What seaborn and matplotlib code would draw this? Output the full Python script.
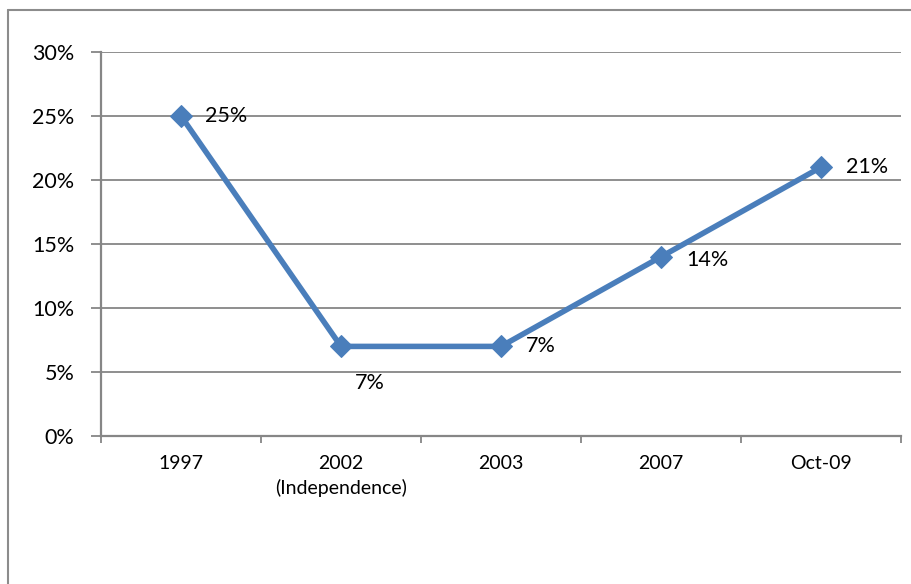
import matplotlib
matplotlib.use("Agg")
import matplotlib.pyplot as plt
from matplotlib.lines import Line2D
from matplotlib.ticker import FixedLocator, PercentFormatter
import seaborn as sns
import pandas as pd

# Data
periods = ["1997", "2002\n(Independence)", "2003", "2007", "Oct-09"]
rates = [25, 7, 7, 14, 21]
labels = ["25%", "7%", "7%", "14%", "21%"]
y_ticks = [0, 5, 10, 15, 20, 25, 30]

sns.set_style("white")
plt.rcParams["font.family"] = ["Lato", "DejaVu Sans"]

W, H = 912, 584
fig = plt.figure(figsize=(W / 100, H / 100), dpi=100)
ax = fig.add_axes([101 / W, 148 / H, 800 / W, 384 / H])

df = pd.DataFrame({"period": periods, "rate": rates})
blue = "#4A7EBB"
sns.lineplot(data=df, x="period", y="rate", ax=ax, color=blue, lw=4.0,
             marker="D", markersize=11, markeredgecolor=blue, sort=False)

ax.set_xlim(-0.5, len(periods) - 0.5)
ax.set_ylim(0, 30)
ax.set_xlabel("")
ax.set_ylabel("")

grid_c = "#868686"
ax.yaxis.set_major_locator(FixedLocator(y_ticks))
ax.yaxis.set_major_formatter(PercentFormatter(decimals=0))
ax.grid(axis="y", color=grid_c, lw=1.3)
ax.set_axisbelow(True)

for s in ["top", "right"]:
    ax.spines[s].set_visible(False)
for s in ["left", "bottom"]:
    ax.spines[s].set_color(grid_c)
    ax.spines[s].set_linewidth(1.6)

ax.tick_params(axis="y", which="major", left=True, length=7, width=1.3,
               color=grid_c, labelsize=15.5, pad=12, labelcolor="black")
ax.set_xticks(range(len(periods)))
ax.set_xticklabels(periods, fontsize=14, linespacing=1.4)
ax.tick_params(axis="x", which="major", length=0, pad=14, labelcolor="black")
ax.set_xticks([i - 0.5 for i in range(len(periods) + 1)], minor=True)
ax.tick_params(axis="x", which="minor", bottom=True, length=5, width=1.3,
               color=grid_c)

# Value labels
offsets = [(17, 0), (10, -26), (18, 0), (18, -2), (18, 0)]
for i, (v, t, off) in enumerate(zip(rates, labels, offsets)):
    ax.annotate(t, (i, v), xytext=off, textcoords="offset points",
                ha="left", va="center", fontsize=15.5, color="black")

# Chart area border
border_c = "#8C8C8C"
fig.add_artist(Line2D([8 / W, 8 / W], [0, 1 - 10 / H], transform=fig.transFigure,
                      color=border_c, lw=1.5))
fig.add_artist(Line2D([8 / W, 1], [1 - 10 / H, 1 - 10 / H], transform=fig.transFigure,
                      color=border_c, lw=1.5))

fig.savefig("out.png", dpi=100)
